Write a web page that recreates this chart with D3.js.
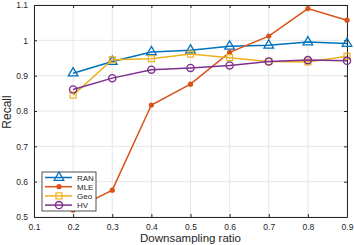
<!DOCTYPE html>
<html>
<head>
<meta charset="utf-8">
<script src="https://cdn.jsdelivr.net/npm/d3@7"></script>
<style>
body { margin: 0; background: #fff; }
text { font-family: "Liberation Sans", Arial, sans-serif; }
</style>
</head>
<body>
<div id="chart"></div>
<script>
// data
var ratios = [0.2, 0.3, 0.4, 0.5, 0.6, 0.7, 0.8, 0.9];
var ran = [0.907, 0.94, 0.967, 0.972, 0.983, 0.986, 0.995, 0.991];
var mle = [0.52, 0.576, 0.817, 0.876, 0.966, 1.012, 1.09, 1.057];
var geo = [0.845, 0.945, 0.948, 0.961, 0.951, 0.94, 0.939, 0.955];
var hv = [0.861, 0.893, 0.917, 0.922, 0.929, 0.94, 0.944, 0.942];
var xTicks = [0.1, 0.2, 0.3, 0.4, 0.5, 0.6, 0.7, 0.8, 0.9];
var yTicks = [0.5, 0.6, 0.7, 0.8, 0.9, 1, 1.1];

var svgWidth = 354;
var svgHeight = 245;
var margin = {top: 5, right: 7, bottom: 28, left: 34};
var width = svgWidth - margin.left - margin.right;
var height = svgHeight - margin.top - margin.bottom;

var svg = d3.select("#chart")
    .append("svg")
    .attr("width", svgWidth)
    .attr("height", svgHeight);

var chartGroup = svg.append("g")
    .attr("transform", `translate(${margin.left}, ${margin.top})`);

var x = d3.scaleLinear().domain([0.1, 0.9]).range([0, width]);
var y = d3.scaleLinear().domain([0.5, 1.1]).range([height, 0]);

// grid
chartGroup.append("g").selectAll("line")
    .data(xTicks).enter().append("line")
    .attr("x1", d => x(d)).attr("x2", d => x(d))
    .attr("y1", 0).attr("y2", height)
    .attr("stroke", "#e6e6e6").attr("stroke-width", 1);
chartGroup.append("g").selectAll("line")
    .data(yTicks).enter().append("line")
    .attr("y1", d => y(d)).attr("y2", d => y(d))
    .attr("x1", 0).attr("x2", width)
    .attr("stroke", "#e6e6e6").attr("stroke-width", 1);

// axes, ticks pointing inward
var axisColor = "#262626";
function styleAxis(g) {
    g.select(".domain").attr("stroke", axisColor);
    g.selectAll(".tick line").attr("stroke", axisColor);
    g.selectAll(".tick text").attr("fill", axisColor)
        .style("font-size", "8.5px")
        .style("font-family", "'Liberation Sans', Arial, sans-serif");
}
var fmt = d3.format("");
chartGroup.append("g")
    .attr("transform", `translate(0, ${height})`)
    .call(d3.axisBottom(x).tickValues(xTicks).tickFormat(fmt).tickSizeInner(-3).tickSizeOuter(0).tickPadding(7))
    .call(styleAxis);
chartGroup.append("g")
    .call(d3.axisTop(x).tickValues(xTicks).tickFormat("").tickSizeInner(-3).tickSizeOuter(0))
    .call(styleAxis);
chartGroup.append("g")
    .call(d3.axisLeft(y).tickValues(yTicks).tickFormat(fmt).tickSizeInner(-3).tickSizeOuter(0).tickPadding(6))
    .call(styleAxis);
chartGroup.append("g")
    .attr("transform", `translate(${width}, 0)`)
    .call(d3.axisRight(y).tickValues(yTicks).tickFormat("").tickSizeInner(-3).tickSizeOuter(0))
    .call(styleAxis);

var series = [
    {name: "RAN", values: ran, color: "#0072BD", marker: "triangle"},
    {name: "MLE", values: mle, color: "#D95319", marker: "dot"},
    {name: "Geo", values: geo, color: "#EDB120", marker: "square"},
    {name: "HV", values: hv, color: "#7E2F8E", marker: "circle"}
];

var line = d3.line().x(d => x(d[0])).y(d => y(d[1]));

function drawMarker(g, type, color) {
    if (type === "triangle") {
        g.append("path").attr("d", d3.symbol(d3.symbolTriangle, 40)())
            .attr("fill", "none").attr("stroke", color).attr("stroke-width", 1.3);
    } else if (type === "dot") {
        g.append("circle").attr("r", 2.6).attr("fill", color);
    } else if (type === "square") {
        g.append("rect").attr("x", -3).attr("y", -3).attr("width", 6).attr("height", 6)
            .attr("fill", "none").attr("stroke", color).attr("stroke-width", 1.2);
    } else {
        g.append("circle").attr("r", 3.6)
            .attr("fill", "none").attr("stroke", color).attr("stroke-width", 1.3);
    }
}

var plot = chartGroup.append("g");
series.forEach(function(s) {
    var pts = ratios.map((r, i) => [r, s.values[i]]);
    plot.append("path").datum(pts)
        .attr("d", line)
        .attr("fill", "none")
        .attr("stroke", s.color)
        .attr("stroke-width", 1.5);
    pts.forEach(function(p) {
        var g = plot.append("g").attr("transform", `translate(${x(p[0])}, ${y(p[1])})`);
        drawMarker(g, s.marker, s.color);
    });
});

// legend
var legend = chartGroup.append("g").attr("transform", "translate(8, 167)");
legend.append("rect")
    .attr("width", 54).attr("height", 39)
    .attr("fill", "#fff").attr("stroke", axisColor).attr("stroke-width", 0.8);
series.forEach(function(s, i) {
    var row = legend.append("g").attr("transform", `translate(0, ${5.5 + i * 9.2})`);
    row.append("line").attr("x1", 3).attr("x2", 30)
        .attr("stroke", s.color).attr("stroke-width", 1.5);
    var m = row.append("g").attr("transform", "translate(17, 0)");
    drawMarker(m, s.marker, s.color);
    row.append("text").attr("x", 35).attr("y", 3)
        .style("font-size", "8px").attr("fill", axisColor)
        .text(s.name);
});

// axis labels
chartGroup.append("text")
    .attr("transform", "rotate(-90)")
    .attr("x", -112 + margin.top)
    .attr("y", -23)
    .attr("text-anchor", "middle")
    .style("font-size", "12px")
    .attr("fill", axisColor)
    .text("Recall");
chartGroup.append("text")
    .attr("x", width / 2)
    .attr("y", height + 25)
    .attr("text-anchor", "middle")
    .style("font-size", "11.5px")
    .attr("fill", axisColor)
    .text("Downsampling ratio");
</script>
</body>
</html>
